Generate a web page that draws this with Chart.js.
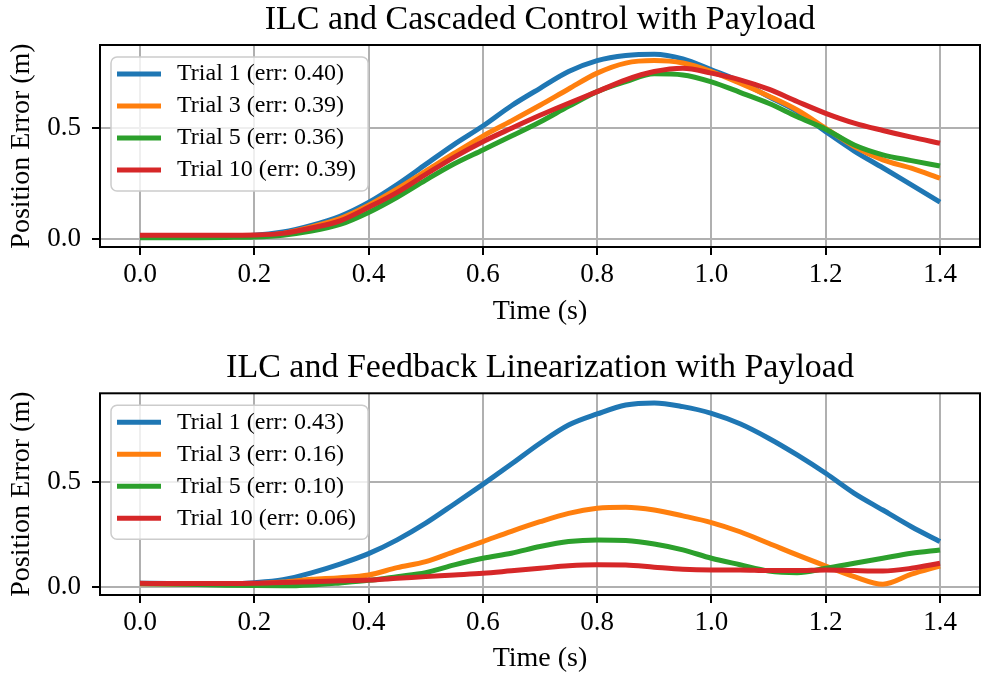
<!DOCTYPE html>
<html>
<head>
<meta charset="utf-8">
<script src="https://cdn.jsdelivr.net/npm/chart.js@4.4.0/dist/chart.umd.min.js"></script>
<style>
  body { margin: 0; background: #fff; }
  canvas { position: absolute; left: 0; }
  #topChart { top: 0; }
  #bottomChart { top: 338px; }
</style>
</head>
<body>
<canvas id="topChart" width="982" height="338"></canvas>
<canvas id="bottomChart" width="982" height="339"></canvas>
<script>
// time samples (s)
const time = [0.00, 0.05, 0.10, 0.15, 0.20, 0.25, 0.30, 0.35, 0.40, 0.45,
              0.50, 0.55, 0.60, 0.65, 0.70, 0.75, 0.80, 0.85, 0.90, 0.95,
              1.00, 1.05, 1.10, 1.15, 1.20, 1.25, 1.30, 1.35, 1.40]

const trials = [1, 3, 5, 10]
const colors = ['#1f77b4', '#ff7f0e', '#2ca02c', '#d62728']
const xTicks = [0.0, 0.2, 0.4, 0.6, 0.8, 1.0, 1.2, 1.4]
const yTicks = [0.0, 0.5]

// ILC + cascaded control
const cascErr = [0.40, 0.39, 0.36, 0.39]
const casc1 = [0.015, 0.015, 0.015, 0.016, 0.018, 0.032, 0.062, 0.103, 0.165, 0.245,
               0.335, 0.425, 0.507, 0.598, 0.676, 0.751, 0.800, 0.823, 0.829, 0.808,
               0.759, 0.707, 0.639, 0.572, 0.482, 0.395, 0.320, 0.243, 0.166]
const casc3 = [0.010, 0.010, 0.010, 0.011, 0.013, 0.026, 0.055, 0.092, 0.152, 0.225,
               0.305, 0.385, 0.462, 0.530, 0.600, 0.673, 0.744, 0.789, 0.800, 0.789,
               0.751, 0.699, 0.642, 0.579, 0.497, 0.415, 0.355, 0.318, 0.273]
const casc5 = [0.007, 0.007, 0.007, 0.008, 0.010, 0.018, 0.036, 0.066, 0.120, 0.188,
               0.265, 0.338, 0.400, 0.462, 0.525, 0.595, 0.661, 0.706, 0.741, 0.736,
               0.705, 0.658, 0.609, 0.549, 0.493, 0.422, 0.378, 0.352, 0.328]
const casc10 = [0.018, 0.018, 0.018, 0.018, 0.019, 0.026, 0.050, 0.082, 0.143, 0.210,
                0.290, 0.368, 0.437, 0.497, 0.555, 0.609, 0.661, 0.714, 0.751, 0.766,
                0.744, 0.714, 0.672, 0.617, 0.564, 0.520, 0.487, 0.457, 0.430]

// ILC + feedback linearization
const fblErr = [0.43, 0.16, 0.10, 0.06]
const fbl1 = [0.016, 0.015, 0.013, 0.013, 0.019, 0.033, 0.066, 0.108, 0.158, 0.224,
              0.304, 0.396, 0.490, 0.587, 0.687, 0.774, 0.827, 0.870, 0.880, 0.862,
              0.830, 0.780, 0.711, 0.631, 0.543, 0.447, 0.367, 0.287, 0.216]
const fbl3 = [0.014, 0.013, 0.012, 0.012, 0.014, 0.022, 0.035, 0.043, 0.056, 0.091,
              0.120, 0.168, 0.216, 0.265, 0.311, 0.351, 0.375, 0.380, 0.367, 0.339,
              0.307, 0.263, 0.208, 0.152, 0.099, 0.048, 0.012, 0.060, 0.099]
const fbl5 = [0.015, 0.013, 0.010, 0.007, 0.005, 0.004, 0.008, 0.018, 0.030, 0.048,
              0.067, 0.104, 0.136, 0.160, 0.192, 0.216, 0.224, 0.221, 0.204, 0.176,
              0.136, 0.105, 0.075, 0.067, 0.088, 0.112, 0.136, 0.160, 0.176]
const fbl10 = [0.016, 0.015, 0.015, 0.015, 0.016, 0.020, 0.024, 0.028, 0.032, 0.040,
               0.048, 0.056, 0.064, 0.076, 0.088, 0.100, 0.105, 0.104, 0.093, 0.083,
               0.080, 0.080, 0.077, 0.077, 0.080, 0.077, 0.075, 0.088, 0.112]

const serif = "'Liberation Serif', 'Times New Roman', serif"
Chart.defaults.color = '#000'

// black box round the plot area
const frame = {
  id: 'frame',
  afterDatasetsDraw(chart) {
    const {ctx, chartArea: a} = chart
    ctx.save()
    ctx.strokeStyle = '#000'
    ctx.lineWidth = 2
    ctx.strokeRect(a.left, a.top, a.right - a.left, a.bottom - a.top)
    ctx.restore()
  }
}

// matplotlib style legend, inside the upper left corner
const insetLegend = {
  id: 'insetLegend',
  afterDraw(chart) {
    const {ctx, chartArea} = chart
    const sets = chart.data.datasets
    const x = chartArea.left + 11, y = chartArea.top + 12
    const rowH = 32
    ctx.save()
    ctx.font = '24px ' + serif
    const textW = Math.max(...sets.map(d => ctx.measureText(d.label).width))
    const w = 66 + textW + 12, h = rowH * (sets.length - 1) + 38
    ctx.beginPath()
    ctx.roundRect(x, y, w, h, 6)
    ctx.fillStyle = 'rgba(255,255,255,0.8)'
    ctx.fill()
    ctx.strokeStyle = '#cccccc'
    ctx.lineWidth = 1.5
    ctx.stroke()
    sets.forEach((d, i) => {
      const cy = y + 17 + i * rowH
      ctx.beginPath()
      ctx.moveTo(x + 6, cy)
      ctx.lineTo(x + 50, cy)
      ctx.strokeStyle = d.borderColor
      ctx.lineWidth = 5
      ctx.stroke()
      ctx.fillStyle = '#000'
      ctx.textBaseline = 'middle'
      ctx.fillText(d.label, x + 66, cy)
    })
    ctx.restore()
  }
}

function makeChart(id, title, series, errs, yMin, yMax, lay) {
  const datasets = series.map((vals, i) => ({
    label: `Trial ${trials[i]} (err: ${errs[i].toFixed(2)})`,
    data: time.map((t, k) => ({x: t, y: vals[k]})),
    borderColor: colors[i],
    backgroundColor: colors[i],
    borderWidth: 5,
    pointRadius: 0,
    cubicInterpolationMode: 'monotone',
    order: series.length - i
  }))

  return new Chart(document.getElementById(id), {
    type: 'line',
    data: {datasets},
    options: {
      responsive: false,
      animation: false,
      devicePixelRatio: 1,
      layout: {padding: {left: 0, right: 2, top: 0, bottom: 0}},
      plugins: {
        legend: {display: false},
        tooltip: {enabled: false},
        title: {
          display: true,
          text: title,
          fullSize: false,
          color: '#000',
          font: {family: serif, size: 34, weight: 'normal'},
          padding: {top: lay.titleTop, bottom: lay.titleBottom}
        }
      },
      scales: {
        x: {
          type: 'linear',
          min: -0.07,
          max: 1.47,
          afterFit: scale => { scale.height = lay.xHeight },
          afterBuildTicks: scale => { scale.ticks = xTicks.map(v => ({value: v})) },
          border: {display: false},
          grid: {color: '#b0b0b0', lineWidth: 2, tickLength: 8, tickColor: '#000', tickWidth: 2},
          ticks: {
            padding: 4,
            font: {family: serif, size: 27},
            color: '#000',
            callback: v => v.toFixed(1)
          },
          title: {
            display: true,
            text: 'Time (s)',
            color: '#000',
            font: {family: serif, size: 28},
            padding: {top: 0, bottom: lay.xTitleBottom}
          }
        },
        y: {
          min: yMin,
          max: yMax,
          afterFit: scale => { scale.width = 100 },
          afterBuildTicks: scale => { scale.ticks = yTicks.map(v => ({value: v})) },
          border: {display: false},
          grid: {color: '#b0b0b0', lineWidth: 2, tickLength: 8, tickColor: '#000', tickWidth: 2},
          ticks: {
            padding: 11,
            font: {family: serif, size: 27},
            color: '#000',
            callback: v => v.toFixed(1)
          },
          title: {
            display: true,
            text: 'Position Error (m)',
            color: '#000',
            font: {family: serif, size: 28},
            padding: {top: 5, bottom: 0}
          }
        }
      }
    },
    plugins: [frame, insetLegend]
  })
}

makeChart('topChart', 'ILC and Cascaded Control with Payload',
  [casc1, casc3, casc5, casc10], cascErr, -0.035, 0.870,
  {titleTop: 0, titleBottom: 4.2, xHeight: 91, xTitleBottom: 10})

makeChart('bottomChart', 'ILC and Feedback Linearization with Payload',
  [fbl1, fbl3, fbl5, fbl10], fblErr, -0.04, 0.926,
  {titleTop: 9.2, titleBottom: 5.3, xHeight: 82, xTitleBottom: 1.2})
</script>
</body>
</html>
